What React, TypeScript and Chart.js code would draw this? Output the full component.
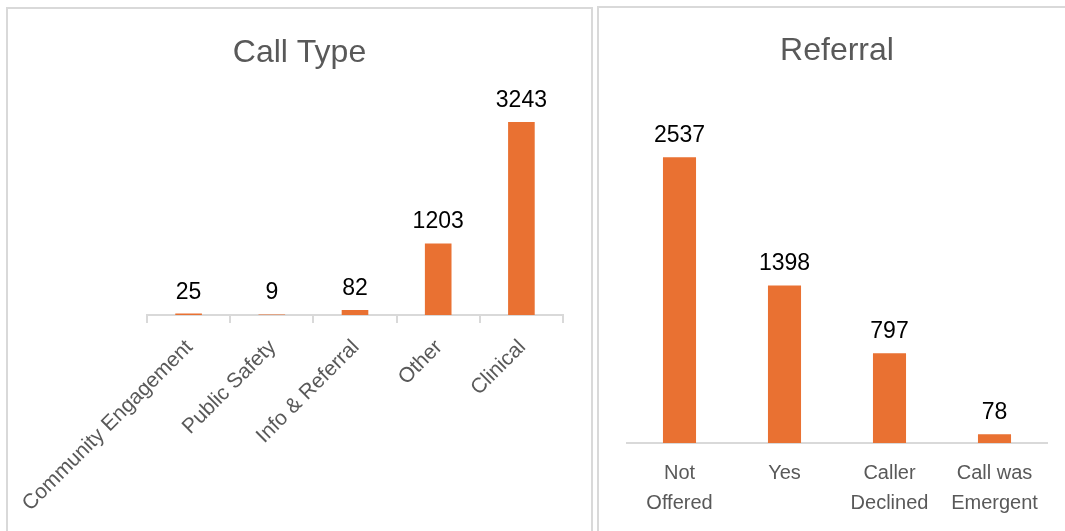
import React, { useEffect, useRef } from "react";
import { Chart, registerables } from "chart.js";

Chart.register(...registerables);

// ---- data ----
const callTypeLabels = ["Community Engagement", "Public Safety", "Info & Referral", "Other", "Clinical"];
const callTypeValues = [25, 9, 82, 1203, 3243];
const callTypeMax = 3500;

const referralLabels = [["Not", "Offered"], "Yes", ["Caller", "Declined"], ["Call was", "Emergent"]];
const referralValues = [2537, 1398, 797, 78];
const referralMax = 3000;

// ---- styles ----
const ORANGE = "#E97132";
const GRAY = "#595959";
const AXIS = "#D9D9D9";
const FONT = "'Liberation Sans', Arial, sans-serif";

const valueLabels = {
  id: "valueLabels",
  afterDatasetsDraw(chart: any) {
    const ctx = chart.ctx;
    const meta = chart.getDatasetMeta(0);
    const data = chart.data.datasets[0].data;
    ctx.save();
    ctx.font = `23px ${FONT}`;
    ctx.fillStyle = "#000000";
    ctx.textAlign = "center";
    ctx.textBaseline = "alphabetic";
    meta.data.forEach((bar: any, i: number) => {
      ctx.fillText(String(data[i]), bar.x, bar.y - 15);
    });
    ctx.restore();
  },
};

type Opts = {
  title: string;
  labels: any[];
  values: number[];
  max: number;
  padLeft: number;
  padRight: number;
  titleTop: number;
  titleBottom: number;
  axisHeight: number;
  barPct: number;
  rotated: boolean;
};

function makeChart(canvas: HTMLCanvasElement, o: Opts) {
  return new Chart(canvas, {
    type: "bar",
    data: {
      labels: o.labels,
      datasets: [
        {
          data: o.values,
          backgroundColor: ORANGE,
          borderWidth: 0,
          categoryPercentage: 1,
          barPercentage: o.barPct,
        },
      ],
    },
    plugins: [valueLabels],
    options: {
      animation: false,
      responsive: false,
      devicePixelRatio: 1,
      layout: { padding: 0 },
      plugins: {
        legend: { display: false },
        tooltip: { enabled: false },
        title: {
          display: true,
          text: o.title,
          color: GRAY,
          font: { family: FONT, size: 32, weight: "normal", lineHeight: 1.2 },
          padding: { top: o.titleTop, bottom: o.titleBottom },
        },
      },
      scales: {
        y: {
          display: false,
          min: 0,
          max: o.max,
        },
        x: {
          offset: true,
          border: { display: true, color: AXIS, width: 2 },
          grid: {
            display: o.rotated,
            offset: true,
            drawOnChartArea: false,
            drawTicks: o.rotated,
            tickLength: 8,
            color: AXIS,
            lineWidth: 2,
          },
          ticks: o.rotated
            ? {
                color: GRAY,
                font: { family: FONT, size: 21, lineHeight: 1.2 },
                minRotation: 45,
                maxRotation: 45,
                autoSkip: false,
                padding: 12,
                labelOffset: 1,
              }
            : {
                color: GRAY,
                font: { family: FONT, size: 20, lineHeight: 1.5 },
                maxRotation: 0,
                autoSkip: false,
                padding: 15,
              },
          afterFit(scale: any) {
            scale.height = o.axisHeight;
            scale.paddingLeft = o.padLeft;
            scale.paddingRight = o.padRight;
          },
        },
      },
    },
  } as any);
}

function ChartBox(props: { opts: Opts; width: number; height: number }) {
  const ref = useRef<HTMLCanvasElement>(null);
  useEffect(() => {
    if (!ref.current) return;
    const c = makeChart(ref.current, props.opts);
    return () => c.destroy();
  }, []);
  return <canvas ref={ref} width={props.width} height={props.height} style={{ display: "block" }} />;
}

export default function App() {
  const panel: React.CSSProperties = {
    position: "absolute",
    boxSizing: "border-box",
    border: `2px solid ${AXIS}`,
    background: "#ffffff",
    overflow: "hidden",
  };
  return (
    <div
      style={{
        position: "absolute",
        left: 0,
        top: 0,
        width: 1065,
        height: 531,
        overflow: "hidden",
        background: "#ffffff",
      }}
    >
      <div style={{ ...panel, left: 6, top: 7, width: 587, height: 544 }}>
        <ChartBox
          width={583}
          height={540}
          opts={{
            title: "Call Type",
            labels: callTypeLabels,
            values: callTypeValues,
            max: callTypeMax,
            padLeft: 139,
            padRight: 28,
            titleTop: 25,
            titleBottom: 34.3,
            axisHeight: 234,
            barPct: 0.32,
            rotated: true,
          }}
        />
      </div>
      <div style={{ ...panel, left: 597, top: 6, width: 480, height: 544 }}>
        <ChartBox
          width={476}
          height={540}
          opts={{
            title: "Referral",
            labels: referralLabels,
            values: referralValues,
            max: referralMax,
            padLeft: 28,
            padRight: 28,
            titleTop: 24,
            titleBottom: 34.6,
            axisHeight: 105,
            barPct: 0.315,
            rotated: false,
          }}
        />
      </div>
    </div>
  );
}
